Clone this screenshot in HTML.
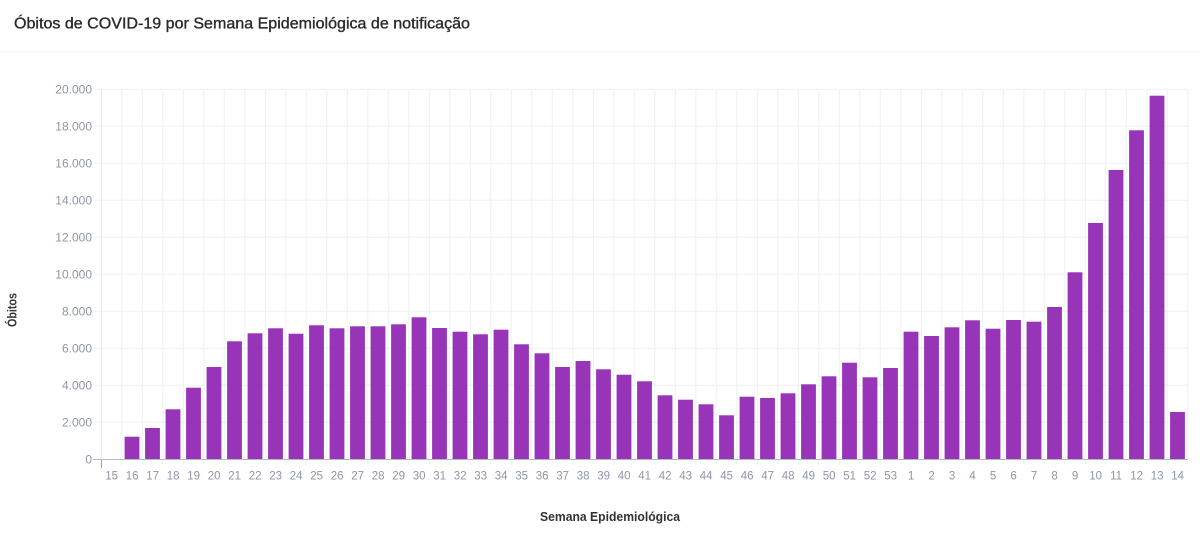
<!DOCTYPE html>
<html>
<head>
<meta charset="utf-8">
<style>
html,body{margin:0;padding:0;background:#fff;}
svg{display:block;}
text{font-family:"Liberation Sans",Arial,sans-serif;}
</style>
</head>
<body>
<svg width="1200" height="536" viewBox="0 0 1200 536" xmlns="http://www.w3.org/2000/svg">
<rect width="1200" height="536" fill="#fff"/>
<text x="14" y="28.5" font-size="15.5" fill="#2a2a2a" stroke="#2a2a2a" stroke-width="0.35" textLength="456" lengthAdjust="spacingAndGlyphs">Óbitos de COVID-19 por Semana Epidemiológica de notificação</text>
<line x1="0" y1="51.7" x2="1200" y2="51.7" stroke="#f0f1f3" stroke-width="1"/>

<!-- horizontal gridlines -->
<g stroke="#eef0f3" stroke-width="1">
<line x1="95" y1="422.3" x2="1188" y2="422.3"/>
<line x1="95" y1="385.3" x2="1188" y2="385.3"/>
<line x1="95" y1="348.3" x2="1188" y2="348.3"/>
<line x1="95" y1="311.3" x2="1188" y2="311.3"/>
<line x1="95" y1="274.3" x2="1188" y2="274.3"/>
<line x1="95" y1="237.3" x2="1188" y2="237.3"/>
<line x1="95" y1="200.3" x2="1188" y2="200.3"/>
<line x1="95" y1="163.3" x2="1188" y2="163.3"/>
<line x1="95" y1="126.3" x2="1188" y2="126.3"/>
<line x1="95" y1="89.3" x2="1188" y2="89.3"/>
</g>
<!-- vertical gridlines -->
<g stroke="#eef0f3" stroke-width="1">
<path d="M121.8 89V465M142.3 89V465M162.8 89V465M183.3 89V465M203.8 89V465M224.3 89V465M244.8 89V465M265.3 89V465M285.8 89V465M306.3 89V465M326.8 89V465M347.3 89V465M367.8 89V465M388.3 89V465M408.8 89V465M429.3 89V465M449.8 89V465M470.3 89V465M490.8 89V465M511.3 89V465M531.8 89V465M552.3 89V465M572.8 89V465M593.3 89V465M613.8 89V465M634.3 89V465M654.8 89V465M675.3 89V465M695.8 89V465M716.3 89V465M736.8 89V465M757.3 89V465M777.8 89V465M798.3 89V465M818.8 89V465M839.3 89V465M859.8 89V465M880.3 89V465M900.8 89V465M921.3 89V465M941.8 89V465M962.3 89V465M982.8 89V465M1003.3 89V465M1023.8 89V465M1044.3 89V465M1064.8 89V465M1085.3 89V465M1105.8 89V465M1126.3 89V465M1146.8 89V465M1167.3 89V465M1187.8 89V465"/>
</g>
<line x1="101.5" y1="89" x2="101.5" y2="468" stroke="#e6e8ec" stroke-width="1"/>
<line x1="101.5" y1="459.5" x2="101.5" y2="468" stroke="#9aa1ad" stroke-width="1"/>

<!-- bars -->
<g fill="#9834b8">
<rect x="124.6" y="436.7" width="14.8" height="22.6"/>
<rect x="145.1" y="428" width="14.8" height="31.3"/>
<rect x="165.6" y="409.3" width="14.8" height="50"/>
<rect x="186.1" y="387.7" width="14.8" height="71.6"/>
<rect x="206.6" y="367" width="14.8" height="92.3"/>
<rect x="227.1" y="341.3" width="14.8" height="118"/>
<rect x="247.6" y="333.3" width="14.8" height="126"/>
<rect x="268.1" y="328.3" width="14.8" height="131"/>
<rect x="288.6" y="333.7" width="14.8" height="125.6"/>
<rect x="309.1" y="325.3" width="14.8" height="134"/>
<rect x="329.6" y="328.3" width="14.8" height="131"/>
<rect x="350.1" y="326.3" width="14.8" height="133"/>
<rect x="370.6" y="326.3" width="14.8" height="133"/>
<rect x="391.1" y="324.3" width="14.8" height="135"/>
<rect x="411.6" y="317.3" width="14.8" height="142"/>
<rect x="432.1" y="328" width="14.8" height="131.3"/>
<rect x="452.6" y="331.7" width="14.8" height="127.6"/>
<rect x="473.1" y="334.3" width="14.8" height="125"/>
<rect x="493.6" y="329.7" width="14.8" height="129.6"/>
<rect x="514.1" y="344.3" width="14.8" height="115"/>
<rect x="534.6" y="353.3" width="14.8" height="106"/>
<rect x="555.1" y="367" width="14.8" height="92.3"/>
<rect x="575.6" y="361" width="14.8" height="98.3"/>
<rect x="596.1" y="369.3" width="14.8" height="90"/>
<rect x="616.6" y="374.7" width="14.8" height="84.6"/>
<rect x="637.1" y="381.3" width="14.8" height="78"/>
<rect x="657.6" y="395.3" width="14.8" height="64"/>
<rect x="678.1" y="399.7" width="14.8" height="59.6"/>
<rect x="698.6" y="404.3" width="14.8" height="55"/>
<rect x="719.1" y="415.3" width="14.8" height="44"/>
<rect x="739.6" y="396.7" width="14.8" height="62.6"/>
<rect x="760.1" y="398" width="14.8" height="61.3"/>
<rect x="780.6" y="393.3" width="14.8" height="66"/>
<rect x="801.1" y="384.3" width="14.8" height="75"/>
<rect x="821.6" y="376.3" width="14.8" height="83"/>
<rect x="842.1" y="362.7" width="14.8" height="96.6"/>
<rect x="862.6" y="377.3" width="14.8" height="82"/>
<rect x="883.1" y="368" width="14.8" height="91.3"/>
<rect x="903.6" y="331.7" width="14.8" height="127.6"/>
<rect x="924.1" y="336" width="14.8" height="123.3"/>
<rect x="944.6" y="327.3" width="14.8" height="132"/>
<rect x="965.1" y="320.3" width="14.8" height="139"/>
<rect x="985.6" y="328.7" width="14.8" height="130.6"/>
<rect x="1006.1" y="320" width="14.8" height="139.3"/>
<rect x="1026.6" y="321.7" width="14.8" height="137.6"/>
<rect x="1047.1" y="307" width="14.8" height="152.3"/>
<rect x="1067.6" y="272.3" width="14.8" height="187"/>
<rect x="1088.1" y="223" width="14.8" height="236.3"/>
<rect x="1108.6" y="170" width="14.8" height="289.3"/>
<rect x="1129.1" y="130.3" width="14.8" height="329"/>
<rect x="1149.6" y="95.7" width="14.8" height="363.6"/>
<rect x="1170.1" y="412" width="14.8" height="47.3"/>
</g>

<!-- baseline -->
<line x1="93" y1="459.5" x2="1188" y2="459.5" stroke="#b4bac4" stroke-width="1"/>

<!-- y labels -->
<g font-size="12" fill="#8d96a7" text-anchor="end">
<text x="92" y="463.5">0</text>
<text x="92" y="426.5">2.000</text>
<text x="92" y="389.5">4.000</text>
<text x="92" y="352.5">6.000</text>
<text x="92" y="315.5">8.000</text>
<text x="92" y="278.5">10.000</text>
<text x="92" y="241.5">12.000</text>
<text x="92" y="204.5">14.000</text>
<text x="92" y="167.5">16.000</text>
<text x="92" y="130.5">18.000</text>
<text x="92" y="93.5">20.000</text>
</g>

<!-- x labels -->
<g font-size="11.5" fill="#8d96a7" text-anchor="middle">
<text x="111.6" y="479.5">15</text>
<text x="132.1" y="479.5">16</text>
<text x="152.6" y="479.5">17</text>
<text x="173.1" y="479.5">18</text>
<text x="193.6" y="479.5">19</text>
<text x="214.1" y="479.5">20</text>
<text x="234.6" y="479.5">21</text>
<text x="255.1" y="479.5">22</text>
<text x="275.6" y="479.5">23</text>
<text x="296.1" y="479.5">24</text>
<text x="316.6" y="479.5">25</text>
<text x="337.1" y="479.5">26</text>
<text x="357.6" y="479.5">27</text>
<text x="378.1" y="479.5">28</text>
<text x="398.6" y="479.5">29</text>
<text x="419.1" y="479.5">30</text>
<text x="439.6" y="479.5">31</text>
<text x="460.1" y="479.5">32</text>
<text x="480.6" y="479.5">33</text>
<text x="501.1" y="479.5">34</text>
<text x="521.6" y="479.5">35</text>
<text x="542.1" y="479.5">36</text>
<text x="562.6" y="479.5">37</text>
<text x="583.1" y="479.5">38</text>
<text x="603.6" y="479.5">39</text>
<text x="624.1" y="479.5">40</text>
<text x="644.6" y="479.5">41</text>
<text x="665.1" y="479.5">42</text>
<text x="685.6" y="479.5">43</text>
<text x="706.1" y="479.5">44</text>
<text x="726.6" y="479.5">45</text>
<text x="747.1" y="479.5">46</text>
<text x="767.6" y="479.5">47</text>
<text x="788.1" y="479.5">48</text>
<text x="808.6" y="479.5">49</text>
<text x="829.1" y="479.5">50</text>
<text x="849.6" y="479.5">51</text>
<text x="870.1" y="479.5">52</text>
<text x="890.6" y="479.5">53</text>
<text x="911.1" y="479.5">1</text>
<text x="931.6" y="479.5">2</text>
<text x="952.1" y="479.5">3</text>
<text x="972.6" y="479.5">4</text>
<text x="993.1" y="479.5">5</text>
<text x="1013.6" y="479.5">6</text>
<text x="1034.1" y="479.5">7</text>
<text x="1054.6" y="479.5">8</text>
<text x="1075.1" y="479.5">9</text>
<text x="1095.6" y="479.5">10</text>
<text x="1116.1" y="479.5">11</text>
<text x="1136.6" y="479.5">12</text>
<text x="1157.1" y="479.5">13</text>
<text x="1177.6" y="479.5">14</text>
</g>

<!-- axis titles -->
<text x="610" y="521" font-size="12.5" font-weight="bold" fill="#333" text-anchor="middle" textLength="140" lengthAdjust="spacingAndGlyphs">Semana Epidemiológica</text>
<text transform="translate(16.5,310) rotate(-90)" x="0" y="0" font-size="12.5" font-weight="bold" fill="#333" text-anchor="middle" textLength="34" lengthAdjust="spacingAndGlyphs">Óbitos</text>
</svg>
</body>
</html>
